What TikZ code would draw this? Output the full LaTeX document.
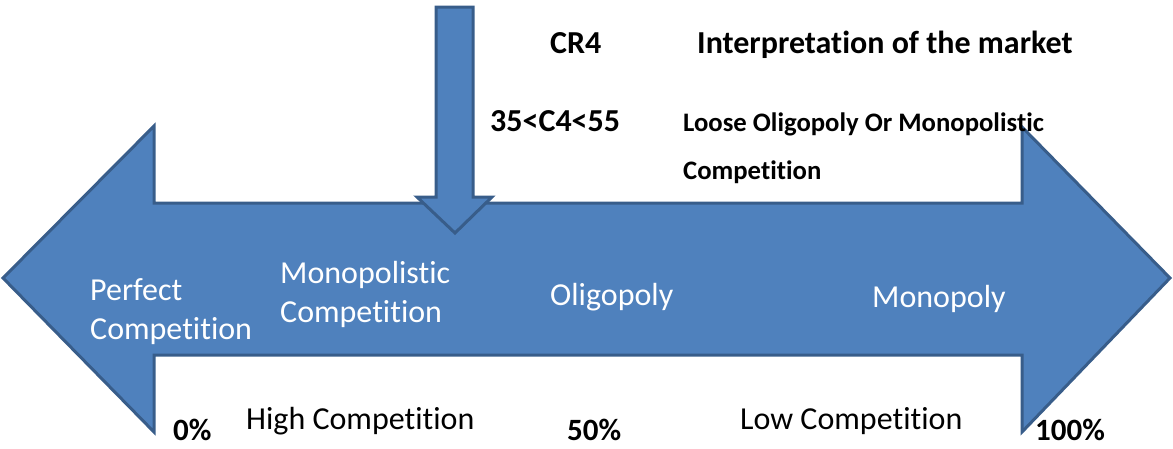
\documentclass[tikz,border=0pt]{standalone}
\usepackage{fontspec}
\setmainfont{Carlito}[RawFeature={-liga;-clig;-calt;-dlig}]
\definecolor{arrowfill}{HTML}{4F81BD}
\definecolor{arrowedge}{HTML}{385D8A}
\tikzset{
  bigarrow/.style={fill=arrowfill, draw=arrowedge, line width=3pt, line join=miter},
  inlabel/.style={text=white, inner sep=0pt, anchor=base west, align=left,
    font=\fontsize{32}{39}\selectfont},
  plainlabel/.style={inner sep=0pt, anchor=base west, font=\fontsize{32}{39}\selectfont},
  headlabel/.style={inner sep=0pt, anchor=base west, font=\bfseries\fontsize{32}{39}\selectfont},
  smallhead/.style={inner sep=0pt, anchor=base west, align=left,
    font=\bfseries\fontsize{26.7}{48}\selectfont},
  pctlabel/.style={inner sep=0pt, anchor=base west, font=\bfseries\fontsize{31}{37}\selectfont}
}
\begin{document}
\begin{tikzpicture}[x=1pt,y=-1pt]
\useasboundingbox (0,0) rectangle (1173,448);

% two-headed market spectrum arrow
\draw[bigarrow] (3,278) -- (154,126) -- (154,203) -- (1022,203) -- (1022,127)
  -- (1170,278) -- (1022,432) -- (1022,355) -- (154,355) -- (154,432) -- cycle;

% downward pointer marking the CR4 range
\draw[bigarrow] (436,7) -- (473,7) -- (473,197) -- (492,197) -- (455,233)
  -- (417,197) -- (436,197) -- cycle;

% market structures along the arrow (multi-line nodes sit on their last baseline)
\node[inlabel] (perfect) at (90,339) {Perfect\\Competition};
\node[inlabel] (monocomp) at (280,322) {Monopolistic\\Competition};
\node[inlabel] (oligo) at (550,305) {Oligopoly};
\node[inlabel] (mono) at (872,307) {Monopoly};

% CR4 table
\node[headlabel] (cr4) at (550,53) {CR4};
\node[headlabel] (interp) at (697,53) {Interpretation of the market};
\node[headlabel] (range) at (490,131) {35<C4<55};
\node[smallhead] (loose) at (683,179) {Loose Oligopoly Or Monopolistic\\Competition};

% scale beneath the arrow
\node[pctlabel] (p0) at (173,440) {0\%};
\node[plainlabel] (high) at (246,429) {High Competition};
\node[pctlabel] (p50) at (567,440) {50\%};
\node[plainlabel] (low) at (740,429) {Low Competition};
\node[pctlabel] (p100) at (1035,440) {100\%};
\end{tikzpicture}
\end{document}
